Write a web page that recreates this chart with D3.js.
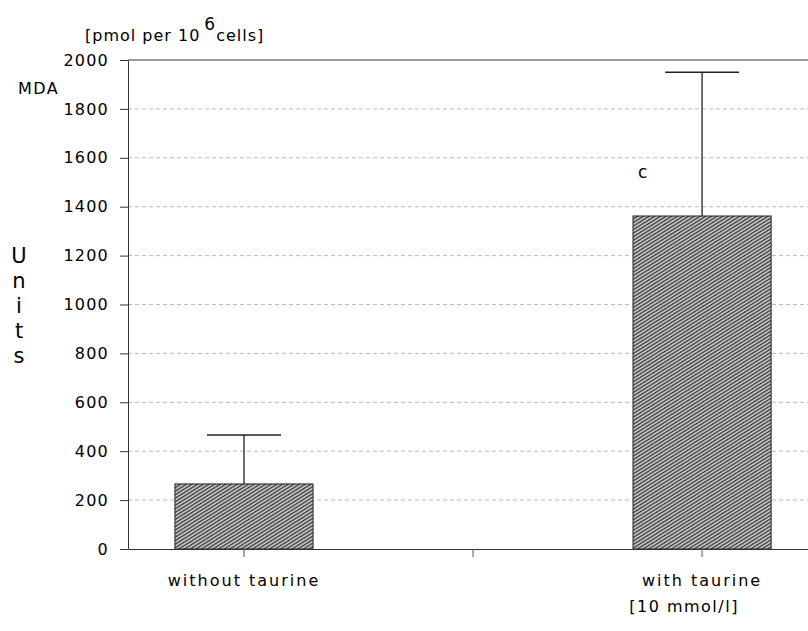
<!DOCTYPE html>
<html lang="en">
<head>
    <meta charset="UTF-8">
    <title>MDA units with and without taurine</title>
    <script src="https://d3js.org/d3.v7.min.js"></script>
    <style>
        body {
            margin: 0;
            background: white;
            font-family: "DejaVu Sans", Arial, sans-serif;
        }
        .tick text {
            font-size: 16px;
            fill: #000;
            font-family: "DejaVu Sans", Arial, sans-serif;
            letter-spacing: 1.2px;
        }
        .label {
            font-size: 16px;
            fill: #000;
        }
    </style>
</head>
<body>
<svg id="chart" width="808" height="631"></svg>
<script>
    // Data
    const categories = ["without taurine", "", "with taurine"];
    const means = [266, null, 1362];
    const errors = [200, null, 588];
    const yTicks = [0, 200, 400, 600, 800, 1000, 1200, 1400, 1600, 1800, 2000];

    const svg = d3.select("#chart"),
        margin = { top: 60, right: 0, bottom: 82, left: 128 },
        width = +svg.attr("width") - margin.left - margin.right,
        height = +svg.attr("height") - margin.top - margin.bottom,
        g = svg.append("g").attr("transform", `translate(${margin.left},${margin.top})`);

    const x = d3.scaleBand()
        .domain(categories)
        .range([0, width])
        .paddingInner(0.397)
        .paddingOuter(0.183)
        .align(0.56);

    const y = d3.scaleLinear()
        .domain([0, 2000])
        .range([height, 0]);

    // hatch pattern
    const pat = svg.append("defs").append("pattern")
        .attr("id", "hatch")
        .attr("patternUnits", "userSpaceOnUse")
        .attr("width", 3)
        .attr("height", 3)
        .attr("patternTransform", "rotate(-32)");
    pat.append("rect").attr("width", 3).attr("height", 3).attr("fill", "#d0d0d0");
    pat.append("rect").attr("width", 3).attr("height", 1.3).attr("fill", "#303030");

    // gridlines
    g.append("g")
        .selectAll("line")
        .data(yTicks.filter(d => d > 0 && d < 2000))
        .enter().append("line")
        .attr("x1", 0)
        .attr("x2", width)
        .attr("y1", d => y(d))
        .attr("y2", d => y(d))
        .attr("stroke", "#aaa")
        .attr("stroke-width", 0.8)
        .attr("stroke-dasharray", "4,3");

    // top frame line
    g.append("line")
        .attr("x1", 0).attr("x2", width)
        .attr("y1", y(2000)).attr("y2", y(2000))
        .attr("stroke", "#333");

    const items = categories.map((c, i) => ({ cat: c, mean: means[i], err: errors[i] }))
        .filter(d => d.mean !== null);

    // error bars
    const eb = g.append("g").selectAll("g").data(items).enter().append("g");
    eb.append("line")
        .attr("x1", d => x(d.cat) + x.bandwidth() / 2)
        .attr("x2", d => x(d.cat) + x.bandwidth() / 2)
        .attr("y1", d => y(d.mean))
        .attr("y2", d => y(d.mean + d.err))
        .attr("stroke", "#222")
        .attr("stroke-width", 1.3);
    eb.append("line")
        .attr("x1", d => x(d.cat) + x.bandwidth() / 2 - 37)
        .attr("x2", d => x(d.cat) + x.bandwidth() / 2 + 37)
        .attr("y1", d => y(d.mean + d.err))
        .attr("y2", d => y(d.mean + d.err))
        .attr("stroke", "#222")
        .attr("stroke-width", 1.5);

    // bars
    g.append("g").selectAll("rect").data(items).enter().append("rect")
        .attr("x", d => x(d.cat))
        .attr("width", x.bandwidth())
        .attr("y", d => y(d.mean))
        .attr("height", d => y(0) - y(d.mean))
        .attr("fill", "url(#hatch)")
        .attr("stroke", "#222")
        .attr("stroke-width", 1);

    // x axis
    const xAxis = g.append("g")
        .attr("transform", `translate(0,${height})`)
        .call(d3.axisBottom(x).tickSize(8).tickSizeOuter(0).tickPadding(18));
    xAxis.select(".domain").attr("stroke", "#333");
    xAxis.selectAll(".tick line").attr("stroke", "#555");
    xAxis.selectAll(".tick text").style("letter-spacing", "2px");

    // y axis
    const yAxis = g.append("g")
        .call(d3.axisLeft(y).tickValues(yTicks).tickFormat(d3.format("d")).tickSize(8).tickSizeOuter(0).tickPadding(11));
    yAxis.select(".domain").attr("stroke", "#333");
    yAxis.selectAll(".tick line").attr("stroke", "#333");

    // labels
    const title = svg.append("text").attr("class", "label")
        .attr("x", 85).attr("y", 41)
        .style("letter-spacing", "1px");
    title.append("tspan").text("[pmol per 10");
    title.append("tspan").attr("dx", 4).attr("dy", -11).style("font-size", "17px").text("6");
    title.append("tspan").attr("dy", 11).text("cells]");

    svg.append("text").attr("class", "label")
        .attr("x", 18).attr("y", 94)
        .style("letter-spacing", "1.5px")
        .text("MDA");

    // vertical "Units", one letter per text
    svg.append("g").selectAll("text")
        .data("Units".split(""))
        .enter().append("text")
        .attr("class", "label")
        .attr("x", 19)
        .attr("y", (d, i) => 263 + i * 25)
        .attr("text-anchor", "middle")
        .style("font-size", "21px")
        .text(d => d);

    svg.append("text").attr("class", "label")
        .attr("x", 638).attr("y", 178)
        .style("font-size", "17px")
        .text("c");

    svg.append("text").attr("class", "label")
        .attr("x", margin.left + x("with taurine") + x.bandwidth() / 2 - 18)
        .attr("y", 612)
        .attr("text-anchor", "middle")
        .style("letter-spacing", "1.5px")
        .text("[10 mmol/l]");
</script>
</body>
</html>
